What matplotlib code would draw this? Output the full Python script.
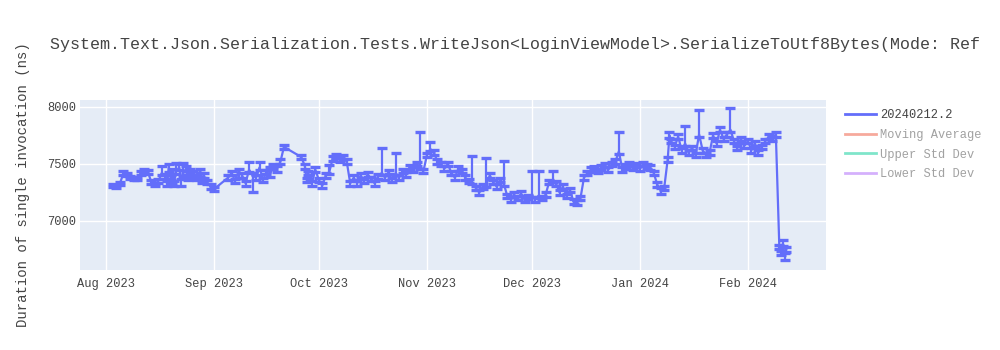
import pandas as pd
import matplotlib.pyplot as plt
from matplotlib.lines import Line2D

# benchmark runs (one entry per run), values in ns
run_dates = [
    "2023-08-03", "2023-08-04", "2023-08-05", "2023-08-06", "2023-08-07", "2023-08-08",
    "2023-08-09", "2023-08-10", "2023-08-11", "2023-08-12", "2023-08-13", "2023-08-14",
    "2023-08-15", "2023-08-16", "2023-08-17", "2023-08-18", "2023-08-18 12:00", "2023-08-19",
    "2023-08-19 12:00", "2023-08-20", "2023-08-20 12:00", "2023-08-21", "2023-08-22", "2023-08-22 12:00",
    "2023-08-23", "2023-08-24", "2023-08-24 12:00", "2023-08-25", "2023-08-26", "2023-08-27",
    "2023-08-28", "2023-08-28 12:00", "2023-08-29", "2023-08-30", "2023-08-31", "2023-09-01",
    "2023-09-05", "2023-09-06", "2023-09-07", "2023-09-08", "2023-09-09", "2023-09-10",
    "2023-09-11", "2023-09-12", "2023-09-13", "2023-09-14", "2023-09-15", "2023-09-16",
    "2023-09-17", "2023-09-18", "2023-09-19", "2023-09-20", "2023-09-21", "2023-09-26",
    "2023-09-27", "2023-09-27 12:00", "2023-09-28", "2023-09-29", "2023-09-30", "2023-10-01",
    "2023-10-02", "2023-10-03", "2023-10-04", "2023-10-05", "2023-10-06", "2023-10-07",
    "2023-10-08", "2023-10-09", "2023-10-10", "2023-10-11", "2023-10-12", "2023-10-13",
    "2023-10-14", "2023-10-15", "2023-10-16", "2023-10-17", "2023-10-18", "2023-10-19",
    "2023-10-20", "2023-10-21", "2023-10-22", "2023-10-23", "2023-10-24", "2023-10-25",
    "2023-10-26", "2023-10-27", "2023-10-28", "2023-10-29", "2023-10-30", "2023-10-31",
    "2023-11-01", "2023-11-02", "2023-11-03", "2023-11-04", "2023-11-05", "2023-11-06",
    "2023-11-07", "2023-11-08", "2023-11-09", "2023-11-10", "2023-11-11", "2023-11-12",
    "2023-11-13", "2023-11-14", "2023-11-15", "2023-11-16", "2023-11-17", "2023-11-18",
    "2023-11-19", "2023-11-20", "2023-11-21", "2023-11-22", "2023-11-23", "2023-11-24",
    "2023-11-25", "2023-11-26", "2023-11-27", "2023-11-28", "2023-11-29", "2023-11-30",
    "2023-12-01", "2023-12-02", "2023-12-03", "2023-12-04", "2023-12-05", "2023-12-06",
    "2023-12-07", "2023-12-08", "2023-12-09", "2023-12-10", "2023-12-11", "2023-12-12",
    "2023-12-13", "2023-12-14", "2023-12-15", "2023-12-16", "2023-12-17", "2023-12-18",
    "2023-12-19", "2023-12-20", "2023-12-21", "2023-12-22", "2023-12-23", "2023-12-24",
    "2023-12-25", "2023-12-26", "2023-12-27", "2023-12-28", "2023-12-29", "2023-12-30",
    "2023-12-31", "2024-01-01", "2024-01-02", "2024-01-03", "2024-01-04", "2024-01-05",
    "2024-01-06", "2024-01-07", "2024-01-08", "2024-01-09", "2024-01-09 12:00", "2024-01-10",
    "2024-01-11", "2024-01-12", "2024-01-13", "2024-01-14", "2024-01-15", "2024-01-16",
    "2024-01-17", "2024-01-18", "2024-01-19", "2024-01-20", "2024-01-21", "2024-01-22",
    "2024-01-23", "2024-01-24", "2024-01-25", "2024-01-26", "2024-01-27", "2024-01-28",
    "2024-01-29", "2024-01-30", "2024-01-31", "2024-02-01", "2024-02-02", "2024-02-03",
    "2024-02-04", "2024-02-05", "2024-02-06", "2024-02-07", "2024-02-08", "2024-02-09",
    "2024-02-10", "2024-02-10 12:00", "2024-02-11", "2024-02-11 12:00", "2024-02-12",
]

durations = [
    7310, 7300, 7330, 7420, 7410, 7380,
    7370, 7375, 7420, 7440, 7430, 7340,
    7320, 7350, 7420, 7390, 7330, 7450,
    7380, 7440, 7330, 7430, 7470, 7350,
    7410, 7460, 7380, 7440, 7420, 7380,
    7440, 7360, 7400, 7340, 7300, 7280,
    7380, 7420, 7350, 7440, 7400, 7330,
    7450, 7400, 7380, 7470, 7360, 7430,
    7410, 7480, 7460, 7520, 7650, 7560,
    7480, 7360, 7420, 7330, 7450, 7360,
    7310, 7400, 7430, 7550, 7570, 7540,
    7560, 7520, 7330, 7380, 7330, 7400,
    7350, 7410, 7370, 7330, 7390, 7420,
    7380, 7430, 7360, 7420, 7380, 7440,
    7410, 7470, 7450, 7500, 7480, 7440,
    7580, 7630, 7600, 7520, 7500, 7460,
    7500, 7420, 7380, 7460, 7440, 7380,
    7350, 7340, 7290, 7250, 7300, 7320,
    7400, 7340, 7300, 7360, 7330, 7220,
    7190, 7230, 7200, 7240, 7190, 7210,
    7230, 7190, 7220, 7200, 7230, 7340,
    7360, 7330, 7250, 7300, 7220, 7270,
    7170, 7160, 7200, 7380, 7420, 7450,
    7460, 7440, 7470, 7490, 7450, 7500,
    7520, 7610, 7450, 7480, 7500, 7470,
    7490, 7460, 7500, 7480, 7470, 7420,
    7320, 7270, 7290, 7540, 7750, 7700,
    7650, 7740, 7620, 7680, 7600, 7640,
    7580, 7760, 7620, 7580, 7600, 7750,
    7680, 7800, 7720, 7760, 7800, 7700,
    7640, 7720, 7660, 7700, 7620, 7680,
    7600, 7650, 7700, 7740, 7720, 7760,
    6770, 6720, 6800, 6700, 6750,
]

err_up = [
    15, 15, 15, 15, 15, 15,
    15, 15, 15, 20, 15, 15,
    15, 15, 60, 20, 20, 50,
    20, 20, 20, 80, 30, 20,
    100, 20, 20, 20, 20, 20,
    20, 20, 20, 20, 20, 15,
    20, 20, 20, 20, 20, 20,
    70, 20, 20, 50, 20, 20,
    60, 20, 20, 20, 15, 20,
    20, 20, 20, 20, 20, 20,
    20, 20, 60, 20, 20, 20,
    20, 20, 20, 20, 20, 20,
    20, 20, 20, 20, 20, 220,
    20, 20, 20, 180, 20, 20,
    20, 20, 20, 20, 300, 20,
    20, 60, 20, 20, 20, 20,
    20, 20, 20, 20, 20, 20,
    20, 230, 20, 20, 20, 230,
    20, 20, 20, 20, 200, 20,
    20, 20, 20, 20, 20, 20,
    210, 20, 220, 20, 20, 20,
    80, 20, 20, 20, 20, 20,
    20, 20, 20, 20, 20, 20,
    20, 20, 20, 20, 20, 20,
    20, 170, 20, 20, 20, 20,
    20, 20, 20, 20, 20, 20,
    20, 20, 20, 20, 30, 20,
    20, 20, 20, 150, 20, 20,
    20, 210, 20, 20, 20, 20,
    20, 20, 20, 20, 190, 20,
    20, 20, 20, 20, 20, 20,
    20, 20, 20, 20, 20, 20,
    20, 20, 30, 20, 20,
]

err_down = [
    15, 15, 15, 15, 15, 15,
    15, 15, 15, 15, 15, 15,
    15, 15, 20, 20, 20, 20,
    20, 120, 20, 20, 20, 40,
    20, 20, 20, 20, 40, 20,
    20, 30, 20, 20, 20, 15,
    20, 20, 20, 60, 20, 20,
    20, 150, 20, 20, 20, 20,
    20, 20, 30, 20, 15, 20,
    20, 20, 20, 20, 20, 20,
    20, 20, 20, 20, 20, 20,
    20, 20, 20, 20, 20, 20,
    20, 20, 20, 20, 20, 20,
    20, 20, 20, 20, 20, 20,
    20, 20, 20, 20, 20, 20,
    20, 20, 20, 20, 20, 20,
    20, 20, 20, 20, 20, 20,
    20, 20, 20, 20, 20, 20,
    20, 20, 20, 20, 20, 20,
    20, 20, 20, 20, 20, 20,
    20, 20, 20, 20, 20, 20,
    20, 20, 20, 20, 20, 20,
    20, 20, 20, 20, 20, 20,
    20, 20, 20, 20, 20, 20,
    20, 20, 20, 20, 20, 20,
    20, 20, 20, 20, 20, 20,
    20, 30, 20, 20, 20, 20,
    20, 20, 20, 20, 20, 20,
    20, 20, 20, 20, 20, 20,
    20, 20, 20, 20, 20, 20,
    20, 20, 20, 20, 20, 20,
    20, 20, 20, 20, 20, 20,
    20, 20, 20, 40, 20,
]

legend_labels = ["20240212.2", "Moving Average", "Upper Std Dev", "Lower Std Dev"]
legend_colors = ["#636efa", "#EF553B", "#00cc96", "#ab63fa"]
x_ticks = ["2023-08-01", "2023-09-01", "2023-10-01", "2023-11-01",
           "2023-12-01", "2024-01-01", "2024-02-01"]
x_tick_labels = ["Aug 2023", "Sep 2023", "Oct 2023", "Nov 2023",
                 "Dec 2023", "Jan 2024", "Feb 2024"]
y_ticks = [7000, 7500, 8000]

# the reference cuts the title at the right edge of the image
title = "System.Text.Json.Serialization.Tests.WriteJson<LoginViewModel>.SerializeToUtf8Bytes(Mode: Ref"

plt.rcParams['font.family'] = ['Liberation Mono', 'DejaVu Sans Mono']

x = pd.to_datetime(run_dates, format='ISO8601')

fig = plt.figure(figsize=(10, 3.5), dpi=100)
ax = fig.add_axes([0.08, 1 - 270 / 350, 0.746, 170 / 350])
ax.set_facecolor("#E5ECF6")

ax.errorbar(x, durations, yerr=[err_down, err_up], color="#636efa",
            linewidth=1.6, elinewidth=1.6, capsize=3.8, capthick=2.4, zorder=3)

ax.set_xlim(pd.Timestamp("2023-07-24 13:00"), pd.Timestamp("2024-02-23 09:00"))
ax.set_ylim(6570, 8061)
ax.set_xticks(pd.to_datetime(x_ticks))
ax.set_xticklabels(x_tick_labels)
ax.set_yticks(y_ticks)
ax.grid(color="white", linewidth=1, zorder=0)
ax.set_axisbelow(True)
for s in ax.spines.values():
    s.set_visible(False)
ax.tick_params(length=0, labelsize=8.64, colors="#444444")
ax.tick_params(axis='x', pad=6)
ax.tick_params(axis='y', pad=3)

fig.text(0.05, 1 - 45 / 350, title, fontsize=12.0, color="#444444", va="center", ha="left")
fig.text(0.023, 1 - 185 / 350, "Duration of single invocation (ns)", fontsize=10.08,
         color="#444444", rotation=90, va="center", ha="center")

handles = []
for i, c in enumerate(legend_colors):
    handles.append(Line2D([0], [0], color=c, linewidth=2, alpha=1.0 if i == 0 else 0.5))
leg = fig.legend(handles, legend_labels, loc="upper left", bbox_to_anchor=(0.845, 1 - 109 / 350),
                 frameon=False, fontsize=8.64, handlelength=2.6, handletextpad=0.35,
                 labelspacing=0.65, borderaxespad=0, borderpad=0)
for i, t in enumerate(leg.get_texts()):
    t.set_color("#444444")
    if i > 0:
        t.set_alpha(0.5)

fig.savefig("out.png", dpi=100)
